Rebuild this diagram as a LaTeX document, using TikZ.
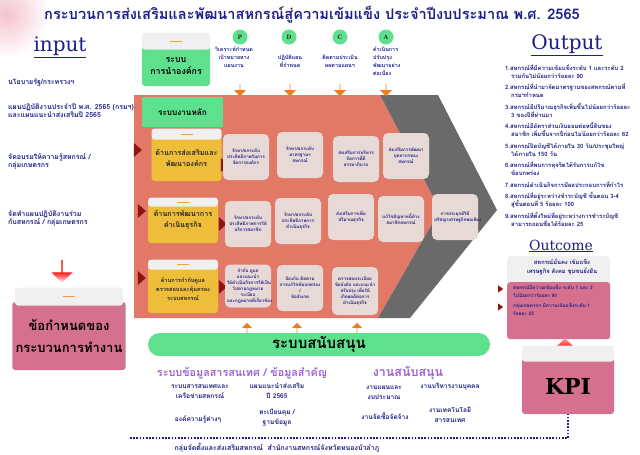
\documentclass[tikz,border=0pt]{standalone}
\usepackage{fontspec}
\usepackage{xcolor}
\newfontfamily\thai[Script=Thai]{Loma}
\newfontfamily\slab{DejaVu Serif}
\usepackage{tikz}
\usetikzlibrary{shapes.geometric, shapes.arrows, positioning}

\definecolor{navy}{HTML}{1E1E86}
\definecolor{salmon}{HTML}{E27866}
\definecolor{band}{HTML}{6A6A6A}
\definecolor{leaf}{HTML}{5FE08C}
\definecolor{gold}{HTML}{EEBD3A}
\definecolor{sand}{HTML}{E6D9D6}
\definecolor{rose}{HTML}{D5708F}
\definecolor{capgray}{HTML}{F0F0F0}
\definecolor{capline}{HTML}{F0A040}
\definecolor{wine}{HTML}{8E1414}
\definecolor{amber}{HTML}{F07C1C}
\definecolor{lilac}{HTML}{9A60D8}
\definecolor{petal}{HTML}{F3C3CF}

\newcommand\capmark{\textcolor{capline}{\rule{12pt}{0.6pt}}}

\tikzset{
  listtxt/.style={font=\thai\bfseries\fontsize{7}{8}\selectfont, text=navy,
                  inner sep=0pt, align=left, anchor=north west},
  outtxt/.style={font=\thai\bfseries\fontsize{5.9}{8}\selectfont, text=navy,
                 inner sep=0pt, align=left, anchor=north west},
  pdcatxt/.style={font=\thai\bfseries\fontsize{5.4}{8}\selectfont, text=navy,
                  inner sep=0pt, align=center, anchor=north},
  subtxt/.style={font=\thai\bfseries\fontsize{6.6}{10}\selectfont, text=navy,
                 inner sep=0pt, align=center},
  heading/.style={font=\slab\fontsize{20}{22}\selectfont, text=navy, inner sep=0pt},
  task/.style={rectangle, rounded corners=5pt, fill=sand, text=navy, align=center,
               text width=42pt, inner sep=1pt, minimum width=46pt, minimum height=46pt,
               font=\thai\bfseries\fontsize{4.5}{6}\selectfont},
  lead/.style={rectangle, rounded corners=3pt, fill=gold, align=center, text=black!85,
               minimum width=70pt, font=\thai\bfseries\fontsize{7.2}{11}\selectfont},
  capbox/.style={rectangle, rounded corners=3pt, fill=capgray, inner sep=0pt},
  marker/.style={isosceles triangle, isosceles triangle stretches, fill=wine,
                 inner sep=0pt, minimum width=14pt, minimum height=8pt},
  pdca/.style={circle, fill=leaf, minimum size=15pt, inner sep=0pt,
               font=\slab\bfseries\fontsize{6}{6}\selectfont, text=black!80},
  smallarrow/.style={single arrow, fill=amber, inner sep=0pt, minimum height=12pt,
                     minimum width=12pt, single arrow head extend=3pt},
  bigarrow/.style={single arrow, inner sep=0pt, minimum height=23pt,
                   minimum width=21pt, single arrow head extend=3pt},
  lilachd/.style={font=\thai\bfseries\fontsize{10.8}{12}\selectfont, text=lilac, inner sep=0pt},
  dots/.style={navy, line width=1.6pt, dash pattern=on 1.6pt off 1.6pt},
}

\begin{document}
\begin{tikzpicture}[x=1pt, y=-1pt]
  \useasboundingbox (0,0) rectangle (640,455);
  \shade[inner color=petal, outer color=white] (6,14) circle (44pt);

  % title and headings
  \node[font=\thai\bfseries\fontsize{14.6}{16}\selectfont, text=navy] (title) at (312,15)
    {กระบวนการส่งเสริมและพัฒนาสหกรณ์สู่ความเข้มแข็ง ประจำปีงบประมาณ พ.ศ. 2565};
  \node[heading] (inputhd)  at (60,47)  {\underline{input}};
  \node[heading] (outputhd) at (567,45) {\underline{Output}};

  % input side
  \node[listtxt] (in1) at (8,79)  {นโยบายรัฐ/กระทรวงฯ};
  \node[listtxt] (in2) at (8,103) {แผนปฏิบัติงานประจำปี พ.ศ. 2565 (กรมฯ)\\และแผนแนะนำส่งเสริมปี 2565};
  \node[listtxt] (in3) at (8,153) {จัดอบรมให้ความรู้สหกรณ์ /\\กลุ่มเกษตรกร};
  \node[listtxt] (in4) at (8,211) {จัดทำแผนปฏิบัติงานร่วม\\กับสหกรณ์ / กลุ่มเกษตรกร};

  \node[bigarrow, shape border rotate=270, top color=red!85!black, bottom color=white,
        middle color=red] (reqarrow) at (62,271) {};
  \node[rectangle, rounded corners=3pt, fill=rose, minimum width=108pt, minimum height=68pt,
        font=\thai\bfseries\fontsize{13}{22}\selectfont, align=center] (req) at (69,336)
    {ข้อกำหนดของ\\กระบวนการทำงาน};
  \node[capbox, minimum width=108pt, minimum height=18pt, above=-4pt of req] (reqcap) {\capmark};

  % leadership and PDCA
  \node[rectangle, rounded corners=3pt, fill=leaf, minimum width=68pt, minimum height=40pt,
        font=\thai\bfseries\fontsize{8.8}{12}\selectfont, align=center] (lead0) at (176,66)
    {ระบบ\\การนำองค์กร};
  \node[capbox, minimum width=68pt, minimum height=17pt, above=-4pt of lead0] (lead0cap) {\capmark};

  \node[pdca] (p) at (240,37) {P};
  \node[pdca] (d) at (289,37) {D};
  \node[pdca] (c) at (340,37) {C};
  \node[pdca] (a) at (386,37) {A};
  \node[pdcatxt] (ptxt) at (234,47) {วิเคราะห์กำหนด\\เป้าหมายทาง\\แผนงาน};
  \node[pdcatxt] (dtxt) at (290,55) {ปฏิบัติแผน\\ที่กำหนด};
  \node[pdcatxt] (ctxt) at (340,55) {ติดตามประเมิน\\ผลตามแผนฯ};
  \node[pdcatxt, anchor=north west, align=left] (atxt) at (373,47) {ดำเนินการ\\ปรับปรุง\\พัฒนาอย่าง\\ต่อเนื่อง};

  % core work area
  \fill[salmon] (134,95) -- (380,95) -- (440,210) -- (378,318) -- (134,318) -- cycle;
  \fill[band] (380,95) -- (438,95) -- (497,210) -- (410,318) -- (378,318) -- (440,210) -- cycle;

  \node[smallarrow, shape border rotate=270] (pdown) at (240,90) {};
  \node[smallarrow, shape border rotate=270] (ddown) at (290,90) {};
  \node[smallarrow, shape border rotate=270] (cdown) at (340,90) {};
  \node[smallarrow, shape border rotate=270] (adown) at (386,90) {};

  \node[rectangle, fill=leaf, minimum width=81pt, minimum height=30pt,
        font=\thai\bfseries\fontsize{8.2}{9}\selectfont] (core) at (182.5,112) {ระบบงานหลัก};

  % row 1
  \node[lead, minimum height=45pt] (lead1) at (186.5,158.5) {ด้านการส่งเสริมและ\\พัฒนาองค์กร};
  \node[capbox, minimum width=70pt, minimum height=11pt, above=-4pt of lead1] (lead1cap) {\capmark};
  \node[marker] (l1in)  at (137,150) {};
  \node[marker] (l1out) at (224,165) {};
  \node[task] (r1a) at (246,157) {รักษา/ยกระดับ\\ประสิทธิภาพในการ\\จัดการองค์กร};
  \node[task] (r1b) at (300,155) {รักษา/ยกระดับ\\มาตรฐานฯ\\สหกรณ์};
  \node[task] (r1c) at (356,159) {ส่งเสริมการบริหาร\\จัดการที่ดี\\ธรรมาภิบาล};
  \node[task] (r1d) at (406,156) {ส่งเสริมการพัฒนา\\บุคลากรของ\\สหกรณ์};

  % row 2
  \node[lead, minimum height=40pt, text depth=8pt] (lead2) at (183,223) {ด้านการพัฒนาการ\\ดำเนินธุรกิจ};
  \node[capbox, minimum width=70pt, minimum height=9pt, above=-4pt of lead2] (lead2cap) {\capmark};
  \node[marker] (l2in)  at (141,211) {};
  \node[marker] (l2out) at (222,224) {};
  \node[task] (r2a) at (248,224) {รักษา/ยกระดับ\\ประสิทธิภาพการให้\\บริการสมาชิก};
  \node[task] (r2b) at (298,221) {รักษา/ยกระดับ\\ประสิทธิภาพการ\\ดำเนินธุรกิจ};
  \node[task] (r2c) at (351,217) {ส่งเสริมการเพิ่ม\\ปริมาณธุรกิจ};
  \node[task] (r2d) at (401,219) {แก้ไขปัญหาหนี้ค้าง\\สมาชิกสหกรณ์};
  \node[task] (r2e) at (455,217) {การประยุกต์ใช้\\ปรัชญาเศรษฐกิจพอเพียง};

  % row 3
  \node[lead, minimum height=47pt, font=\thai\bfseries\fontsize{5.6}{9}\selectfont] (lead3) at (183,289.5)
    {ด้านการกำกับดูแล\\ตรวจสอบและคุ้มครอง\\ระบบสหกรณ์};
  \node[capbox, minimum width=70pt, minimum height=10pt, above=-4pt of lead3] (lead3cap) {\capmark};
  \node[marker] (l3in)  at (141,278) {};
  \node[marker] (l3out) at (222,287) {};
  \node[task, minimum height=43pt] (r3a) at (248,286) {กำกับ ดูแล และแนะนำ\\ให้ดำเนินกิจการให้เป็น\\ไปตามกฎหมาย ระเบียบ\\และกฎหมายที่เกี่ยวข้อง};
  \node[task] (r3b) at (300,288) {ป้องกัน ติดตาม\\การแก้ไขข้อบกพร่อง /\\ข้อสังเกต};
  \node[task, minimum height=48pt] (r3c) at (355,291) {ตรวจสอบระเบียบ\\ข้อบังคับ และแนะนำ\\ปรับปรุง เพื่อให้\\เกิดผลดีต่อการ\\ดำเนินธุรกิจ};

  % support
  \node[smallarrow, shape border rotate=90, minimum height=10pt, minimum width=10pt] (sup1) at (247,328) {};
  \node[smallarrow, shape border rotate=90, minimum height=10pt, minimum width=10pt] (sup2) at (297,328) {};
  \node[smallarrow, shape border rotate=90, minimum height=10pt, minimum width=10pt] (sup3) at (357,328) {};
  \node[rectangle, rounded corners=11.5pt, fill=leaf, minimum width=342pt, minimum height=23pt,
        font=\thai\bfseries\fontsize{15}{16}\selectfont] (support) at (319,344.5) {ระบบสนับสนุน};

  \node[lilachd] (infohd) at (242,373) {ระบบข้อมูลสารสนเทศ / ข้อมูลสำคัญ};
  \node[lilachd, font=\thai\bfseries\fontsize{12.5}{14}\selectfont] (aidhd) at (408,373) {งานสนับสนุน};
  \node[subtxt] (info1) at (200,392) {ระบบสารสนเทศและ\\เครือข่ายสหกรณ์};
  \node[subtxt] (info2) at (277,391) {แผนแนะนำส่งเสริม\\ปี 2565};
  \node[subtxt] (info3) at (198,419) {องค์ความรู้ต่างๆ};
  \node[subtxt] (info4) at (277,418) {ทะเบียนคุม /\\ฐานข้อมูล};
  \node[subtxt] (aid1) at (384,393) {งานแผนและ\\งบประมาณ};
  \node[subtxt] (aid2) at (450,387) {งานบริหารงานบุคคล};
  \node[subtxt] (aid3) at (385,416) {งานจัดซื้อจัดจ้าง};
  \node[subtxt] (aid4) at (450,415) {งานเทคโนโลยี\\สารสนเทศ};

  % output side
  \node[outtxt] (outlist) at (505,64)
    {1.สหกรณ์ที่มีความเข้มแข็งระดับ 1 และระดับ 2\\\hspace*{6pt}รวมกันไม่น้อยกว่าร้อยละ 90\\[3.5pt]
     2.สหกรณ์ที่นำมาจัดมาตรฐานของสหกรณ์ตามที่\\\hspace*{6pt}กรมฯกำหนด\\[3.5pt]
     3.สหกรณ์มีปริมาณธุรกิจเพิ่มขึ้นไม่น้อยกว่าร้อยละ\\\hspace*{6pt}3 ของปีที่ผ่านมา\\[3.5pt]
     4.สหกรณ์มีอัตราส่วนเงินออมต่อหนี้สินของ\\\hspace*{6pt}สมาชิก เพิ่มขึ้นจากปีก่อนไม่น้อยกว่าร้อยละ 62\\[3.5pt]
     5.สหกรณ์ปิดบัญชีได้ภายใน 30 วัน/ประชุมใหญ่\\\hspace*{6pt}ได้ภายใน 150 วัน\\[3.5pt]
     6.สหกรณ์ที่พบการทุจริตได้รับการแก้ไข\\\hspace*{6pt}ข้อบกพร่อง\\[3.5pt]
     7.สหกรณ์ดำเนินกิจการมีผลประกอบการที่กำไร\\[3.5pt]
     8.สหกรณ์ที่อยู่ระหว่างชำระบัญชี ขั้นตอน 3-4\\\hspace*{6pt}สู่ขั้นตอนที่ 5 ร้อยละ 100\\[3.5pt]
     9.สหกรณ์ที่ตั้งใหม่ที่อยู่ระหว่างการชำระบัญชี\\\hspace*{6pt}สามารถถอนชื่อได้ร้อยละ 25};

  \node[heading, font=\slab\fontsize{14}{16}\selectfont] (outcomehd) at (561,246) {\underline{Outcome}};
  \node[capbox, minimum width=103pt, minimum height=83pt, anchor=north west] (outcomebg) at (507,256) {};
  \node[subtxt, font=\thai\bfseries\fontsize{5.8}{9}\selectfont, anchor=north] (outcometxt) at (562,258)
    {สหกรณ์มั่นคง เข้มแข็ง\\เศรษฐกิจ สังคม ชุมชนยั่งยืน};
  \node[rectangle, rounded corners=3pt, fill=rose, minimum width=103pt, minimum height=57pt,
        anchor=north west] (outcome) at (507,282) {};
  \node[outtxt, font=\thai\bfseries\fontsize{4.8}{8}\selectfont] (oc1) at (513,285)
    {สหกรณ์มีความเข้มแข็ง ระดับ 1 และ 2\\ไม่น้อยกว่าร้อยละ 90};
  \node[outtxt, font=\thai\bfseries\fontsize{4.8}{8}\selectfont] (oc2) at (513,303)
    {กลุ่มเกษตรกร มีความเข้มแข็งระดับ 1\\ร้อยละ 25};
  \node[marker, minimum width=7pt, minimum height=5pt] (oc1m) at (500,289) {};
  \node[marker, minimum width=7pt, minimum height=5pt] (oc2m) at (500,307) {};

  \node[bigarrow, shape border rotate=90, minimum height=21pt, minimum width=20pt,
        top color=red!35, bottom color=red!90!black, middle color=red] (kpiarrow) at (565,349) {};
  \node[rectangle, rounded corners=3pt, fill=rose, minimum width=92pt, minimum height=56pt,
        font=\slab\bfseries\fontsize{22}{24}\selectfont] (kpi) at (568,386) {KPI};
  \node[capbox, minimum width=92pt, minimum height=16pt, above=-4pt of kpi] (kpicap) {};

  % footer
  \coordinate (dotstart) at (130,438);
  \draw[dots] (dotstart) -| (kpi.south);
  \node[subtxt, font=\thai\bfseries\fontsize{7}{8}\selectfont] (footer) at (277,448)
    {กลุ่มจัดตั้งและส่งเสริมสหกรณ์~~สำนักงานสหกรณ์จังหวัดหนองบัวลำภู};
\end{tikzpicture}
\end{document}
